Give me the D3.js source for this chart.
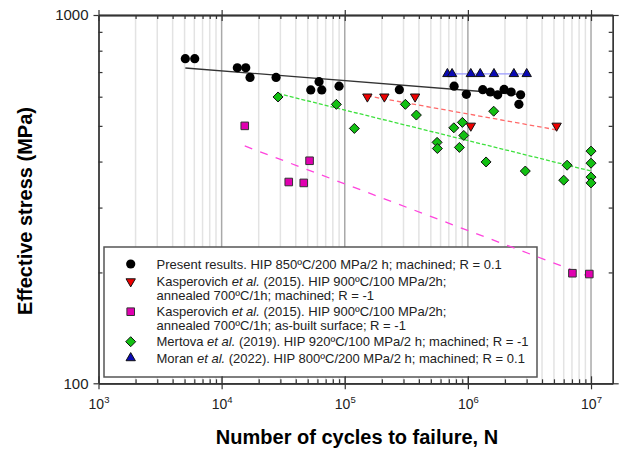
<!DOCTYPE html>
<html><head><meta charset="utf-8">
<script src="https://cdn.jsdelivr.net/npm/d3@7"></script>
<style>
body{margin:0;background:#fff}
svg{display:block}
text{font-family:"Liberation Sans",Arial,Helvetica,sans-serif}
</style>
</head><body>
<svg id="c" width="619" height="450"></svg>
<script>
// ---------- data (N cycles, effective stress MPa) ----------
const presentData = [[5070,761],[6046,761],[13414,719],[15700,719],[17010,677],[27670,677],[52950,626],[61830,659],[65060,626],[89880,641],[277600,627],[772700,641],[972300,609],[1321000,627],[1521000,618],[1746000,607],[1968000,628],[2247000,618],[2596000,572],[2680000,607]];
const kasperMachinedData = [[152600,600],[209700,600],[372500,600],[1056000,500],[5255000,500]];
const kasperAsBuiltData = [[15410,500],[35090,352],[46440,350],[51780,402],[7063000,199],[9687000,198]];
const mertovaData = [[28720,599],[85470,572],[119700,492],[310700,572],[381600,535],[562100,451],[565200,434],[768400,494],[853100,437],[902100,511],[926000,471],[1405000,399],[1620000,548],[2926000,377],[6001000,356],[6394000,391],[10000000,427],[10000000,396],[10000000,363],[10000000,350]];
const moranData = [[681600,692],[744000,692],[1056000,692],[1259000,692],[1629000,692],[2364000,692],[3004000,692]];

const presentFit = [[5070,718],[2680000,608]];
const kasperMachinedFit = [[152600,603],[5195000,488]];
const kasperAsBuiltFit = [[15410,441],[9687000,195]];
const mertovaFit = [[28720,612],[10000000,377]];
const moranFit = [[681600,692],[3004000,692]];

const majorX = [1e3,1e4,1e5,1e6,1e7];
const minorX = [2e3,3e3,4e3,5e3,6e3,7e3,8e3,9e3,2e4,3e4,4e4,5e4,6e4,7e4,8e4,9e4,2e5,3e5,4e5,5e5,6e5,7e5,8e5,9e5,2e6,3e6,4e6,5e6,6e6,7e6,8e6,9e6];
const majorY = [100,1000];
const minorY = [200,300,400,500,600,700,800,900];
const xExponents = ["3","4","5","6","7"];

const legendLabels = [
  ["Present results. HIP 850ºC/200 MPa/2 h; machined; R = 0.1"],
  ["Kasperovich et al. (2015). HIP 900ºC/100 MPa/2h;","annealed 700ºC/1h; machined; R = -1"],
  ["Kasperovich et al. (2015). HIP 900ºC/100 MPa/2h;","annealed 700ºC/1h; as-built surface; R = -1"],
  ["Mertova et al. (2019). HIP 920ºC/100 MPa/2 h; machined; R = -1"],
  ["Moran et al. (2022). HIP 800ºC/200 MPa/2 h; machined; R = 0.1"]
];
const xTitle = "Number of cycles to failure, N";
const yTitle = "Effective stress (MPa)";

// ---------- layout ----------
const X0 = 98.5, X1 = 612.7, Y0 = 383.3, Y1 = 15;
const svg = d3.select("#c");
const x = d3.scaleLog().domain([1e3,1.5e7]).range([X0,X1]);
const y = d3.scaleLog().domain([100,1000]).range([Y0,Y1]);

// grid
svg.append("g").selectAll("line").data(minorX).join("line")
  .attr("x1",d=>x(d)).attr("x2",d=>x(d)).attr("y1",Y1).attr("y2",Y0)
  .attr("stroke","#e3e3e3").attr("stroke-width",1.5);
svg.append("g").selectAll("line").data(majorX.slice(1)).join("line")
  .attr("x1",d=>x(d)).attr("x2",d=>x(d)).attr("y1",Y1).attr("y2",Y0)
  .attr("stroke","#a9a9a9").attr("stroke-width",1.5);

// legend box (under data lines)
const LX = 104, LY = 247, LW = 433, LH = 130;
svg.append("rect").attr("x",LX).attr("y",LY).attr("width",LW).attr("height",LH)
  .attr("fill","#fff").attr("stroke","#555").attr("stroke-width",1.5);

// axes
function styleAxis(sel){
  sel.select(".domain").attr("stroke","#333").attr("stroke-width",1.3);
  sel.selectAll(".tick line").attr("stroke","#333").attr("stroke-width",1.2);
  return sel;
}
const fam = '"Liberation Sans",Arial,sans-serif';
// bottom
styleAxis(svg.append("g").attr("transform",`translate(0,${Y0})`)
  .call(d3.axisBottom(x).tickValues(minorX).tickSize(-4).tickSizeOuter(0).tickFormat("")));
styleAxis(svg.append("g").attr("transform",`translate(0,${Y0})`)
  .call(d3.axisBottom(x).tickValues(majorX).tickSize(-7).tickSizeOuter(0).tickFormat("")));
const bx = styleAxis(svg.append("g").attr("transform",`translate(0,${Y0})`)
  .call(d3.axisBottom(x).tickValues(majorX).tickSize(6).tickSizeOuter(0).tickFormat("")));
bx.selectAll(".tick").each(function(d,i){
  const t = d3.select(this).append("text").attr("y",25.5).attr("text-anchor","middle")
    .attr("fill","#222").attr("font-family",fam).attr("font-size",14);
  t.append("tspan").text("10");
  t.append("tspan").attr("dy",-6).attr("font-size",9.5).text(xExponents[i]);
});
// top
styleAxis(svg.append("g").attr("transform",`translate(0,${Y1})`)
  .call(d3.axisTop(x).tickValues(minorX).tickSize(-4).tickSizeOuter(0).tickFormat("")));
styleAxis(svg.append("g").attr("transform",`translate(0,${Y1})`)
  .call(d3.axisTop(x).tickValues(majorX).tickSize(-6).tickSizeOuter(0).tickFormat("")));
styleAxis(svg.append("g").attr("transform",`translate(0,${Y1})`)
  .call(d3.axisTop(x).tickValues(majorX).tickSize(5).tickSizeOuter(0).tickFormat("")));
// left
styleAxis(svg.append("g").attr("transform",`translate(${X0},0)`)
  .call(d3.axisLeft(y).tickValues(minorY).tickSize(-4).tickSizeOuter(0).tickFormat("")));
const ly = styleAxis(svg.append("g").attr("transform",`translate(${X0},0)`)
  .call(d3.axisLeft(y).tickValues(majorY).tickSize(5).tickPadding(5).tickSizeOuter(0).tickFormat(d3.format("d"))));
ly.selectAll(".tick text").attr("font-size",15).attr("font-family",fam).attr("fill","#222");
// right
styleAxis(svg.append("g").attr("transform",`translate(${X1},0)`)
  .call(d3.axisRight(y).tickValues(minorY).tickSize(-4).tickSizeOuter(0).tickFormat("")));
styleAxis(svg.append("g").attr("transform",`translate(${X1},0)`)
  .call(d3.axisRight(y).tickValues(majorY).tickSize(6).tickSizeOuter(0).tickFormat("")));

// titles
svg.append("text").attr("x",357).attr("y",444).attr("text-anchor","middle")
  .attr("font-size",20).attr("font-weight","bold").attr("fill","#000").text(xTitle);
svg.append("text").attr("transform","translate(32,211) rotate(-90)").attr("text-anchor","middle")
  .attr("font-size",20).attr("font-weight","bold").attr("fill","#000").text(yTitle);

// fit lines
const line = d3.line().x(d=>x(d[0])).y(d=>y(d[1]));
function fit(data,color,dash,w){
  svg.append("path").datum(data).attr("d",line).attr("fill","none")
    .attr("stroke",color).attr("stroke-width",w).attr("stroke-dasharray",dash);
}
fit(presentFit,"#333",null,1.3);
fit(kasperMachinedFit,"#ff6a6a","4.5,3",1.3);
fit(kasperAsBuiltFit,"#ff44dd","8,8.5",1.3);
fit(mertovaFit,"#3ee03e","4,2",1.3);
fit(moranFit,"#9a9aff",null,1.2);

// markers
const triUp = d3.symbol().type(d3.symbolTriangle).size(38)();
const diamond = "M0,-5L5,0L0,5L-5,0Z";
const square = "M-3.8,-3.8H3.8V3.8H-3.8Z";
function markers(data,path,fill,rot,stroke){
  svg.append("g").selectAll("path").data(data).join("path")
    .attr("d",path)
    .attr("transform",d=>`translate(${x(d[0])},${y(d[1])})${rot?" rotate(180)":""}`)
    .attr("fill",fill).attr("stroke",stroke||"#111").attr("stroke-width",1);
}
svg.append("g").selectAll("circle").data(presentData).join("circle")
  .attr("cx",d=>x(d[0])).attr("cy",d=>y(d[1])).attr("r",4.6).attr("fill","#000");
markers(kasperMachinedData,triUp,"#ee0000",true);
markers(kasperAsBuiltData,square,"#e000b0",false,"#333");
markers(mertovaData,diamond,"#12c012",false);
markers(moranData,triUp,"#0a0ab4",false);

// legend content
const symX = 130.7;
const symY = [264,281.5,311.7,341.7,358];
const lineY = [[268.5],[286,299.5],[316,330],[346],[362.5]];
const lg = svg.append("g");
lg.append("circle").attr("cx",symX).attr("cy",symY[0]).attr("r",4.6).attr("fill","#000");
lg.append("path").attr("d",triUp).attr("transform",`translate(${symX},${symY[1]}) rotate(180)`).attr("fill","#ee0000").attr("stroke","#111");
lg.append("path").attr("d",square).attr("transform",`translate(${symX},${symY[2]})`).attr("fill","#e000b0").attr("stroke","#333");
lg.append("path").attr("d",diamond).attr("transform",`translate(${symX},${symY[3]})`).attr("fill","#12c012").attr("stroke","#111");
lg.append("path").attr("d",triUp).attr("transform",`translate(${symX},${symY[4]})`).attr("fill","#0a0ab4").attr("stroke","#111");
legendLabels.forEach((lines,i)=>{
  lines.forEach((s,j)=>{
    const t = lg.append("text").attr("x",156.5).attr("y",lineY[i][j]).attr("font-size",13).attr("fill","#222");
    const parts = s.split("et al.");
    parts.forEach((p,k)=>{
      t.append("tspan").text(p);
      if(k<parts.length-1) t.append("tspan").attr("font-style","italic").text("et al.");
    });
  });
});
</script>
</body></html>
